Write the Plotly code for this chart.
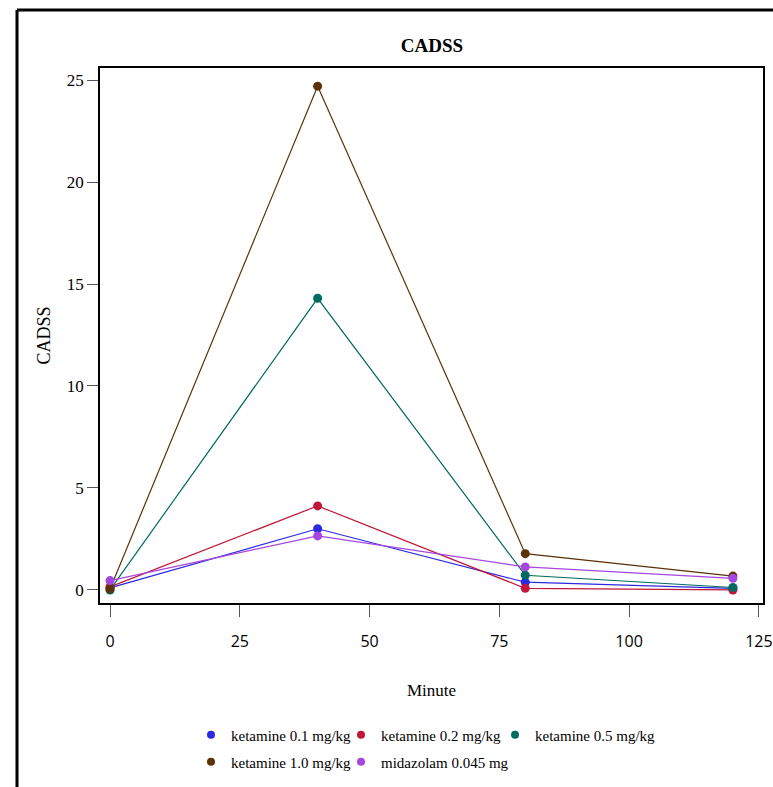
import plotly.graph_objects as go

minutes = [0, 40, 80, 120]
series_names = ["ketamine 0.1 mg/kg", "ketamine 0.2 mg/kg", "ketamine 0.5 mg/kg",
                "ketamine 1.0 mg/kg", "midazolam 0.045 mg"]
k01 = [0.1, 3.0, 0.38, 0.08]
k02 = [0.15, 4.12, 0.08, 0.0]
k05 = [0.0, 14.3, 0.72, 0.12]
k10 = [0.05, 24.7, 1.78, 0.68]
mid = [0.46, 2.65, 1.13, 0.57]
series_values = [k01, k02, k05, k10, mid]
colors = ["#2a2ae0", "#c0173a", "#006b5f", "#5c3208", "#a646e0"]
legend_ids = ["legend", "legend2", "legend3", "legend4", "legend5"]

x_ticks = [0, 25, 50, 75, 100, 125]
y_ticks = [0, 5, 10, 15, 20, 25]

FONT = "Liberation Serif"

fig = go.Figure()
for name, vals, col in zip(series_names, series_values, colors):
    fig.add_trace(go.Scatter(
        x=minutes, y=vals, mode="lines+markers", name=name,
        line=dict(color=col, width=1.2),
        marker=dict(color=col, size=9),
        showlegend=False,
    ))
for name, col, lg in zip(series_names, colors, legend_ids):
    fig.add_trace(go.Scatter(
        x=[None], y=[None], mode="markers", name=name,
        marker=dict(color=col, size=8), legend=lg,
    ))

W, H = 773, 787
L, R, T, B = 100, 10, 68, 184
PW, PH = W - L - R, H - T - B


def px_x(p):
    return (p - L) / PW


def px_y(p):
    return (H - B - p) / PH


legend_common = dict(orientation="h", xanchor="left", yanchor="middle",
                     font=dict(family=FONT, size=15, color="black"),
                     itemwidth=30, bgcolor="rgba(0,0,0,0)")
legend_pos = [(191, 735), (341, 735), (495, 735), (191, 762), (341, 762)]
legend_layout = {lg: dict(x=px_x(px), y=px_y(py), **legend_common)
                 for lg, (px, py) in zip(legend_ids, legend_pos)}

fig.update_layout(
    width=W, height=H,
    margin=dict(l=L, r=R, t=T, b=B, autoexpand=False),
    paper_bgcolor="white", plot_bgcolor="white",
    font=dict(family=FONT, size=15, color="black"),
    title=dict(text="<b>CADSS</b>", x=(432 / W), xanchor="center",
               y=1 - 45 / H, yanchor="middle",
               font=dict(family=FONT, size=19, color="black")),
    xaxis=dict(range=[-1.93, 125.8], tickvals=x_ticks, ticks="outside",
               ticklen=12, tickcolor="#555", showgrid=False, zeroline=False,
               showline=True, linecolor="black", linewidth=1.5, mirror=True,
               ticklabelstandoff=11,
               tickfont=dict(family="Open Sans", size=16, color="black"),
               title=dict(text="Minute", standoff=33,
                          font=dict(family=FONT, size=17, color="black"))),
    yaxis=dict(range=[-0.64, 25.59], tickvals=y_ticks, ticks="outside",
               ticklen=11, tickcolor="#555", showgrid=False, zeroline=False,
               showline=True, linecolor="black", linewidth=1.5, mirror=True,
               tickfont=dict(family=FONT, size=17, color="black"),
               title=dict(text="CADSS", standoff=12,
                          font=dict(family=FONT, size=18, color="black"))),
    shapes=[dict(type="line", xref="paper", yref="paper",
                 x0=px_x(17), x1=px_x(17),
                 y0=px_y(10), y1=px_y(800),
                 line=dict(color="black", width=3)),
            dict(type="line", xref="paper", yref="paper",
                 x0=px_x(17), x1=px_x(790),
                 y0=px_y(10), y1=px_y(10),
                 line=dict(color="black", width=3))],
    **legend_layout,
)

fig.write_html("out.html",
               config={"displayModeBar": False},
               post_script="document.body.style.margin='0';"
                           "document.body.style.overflow='hidden';")
